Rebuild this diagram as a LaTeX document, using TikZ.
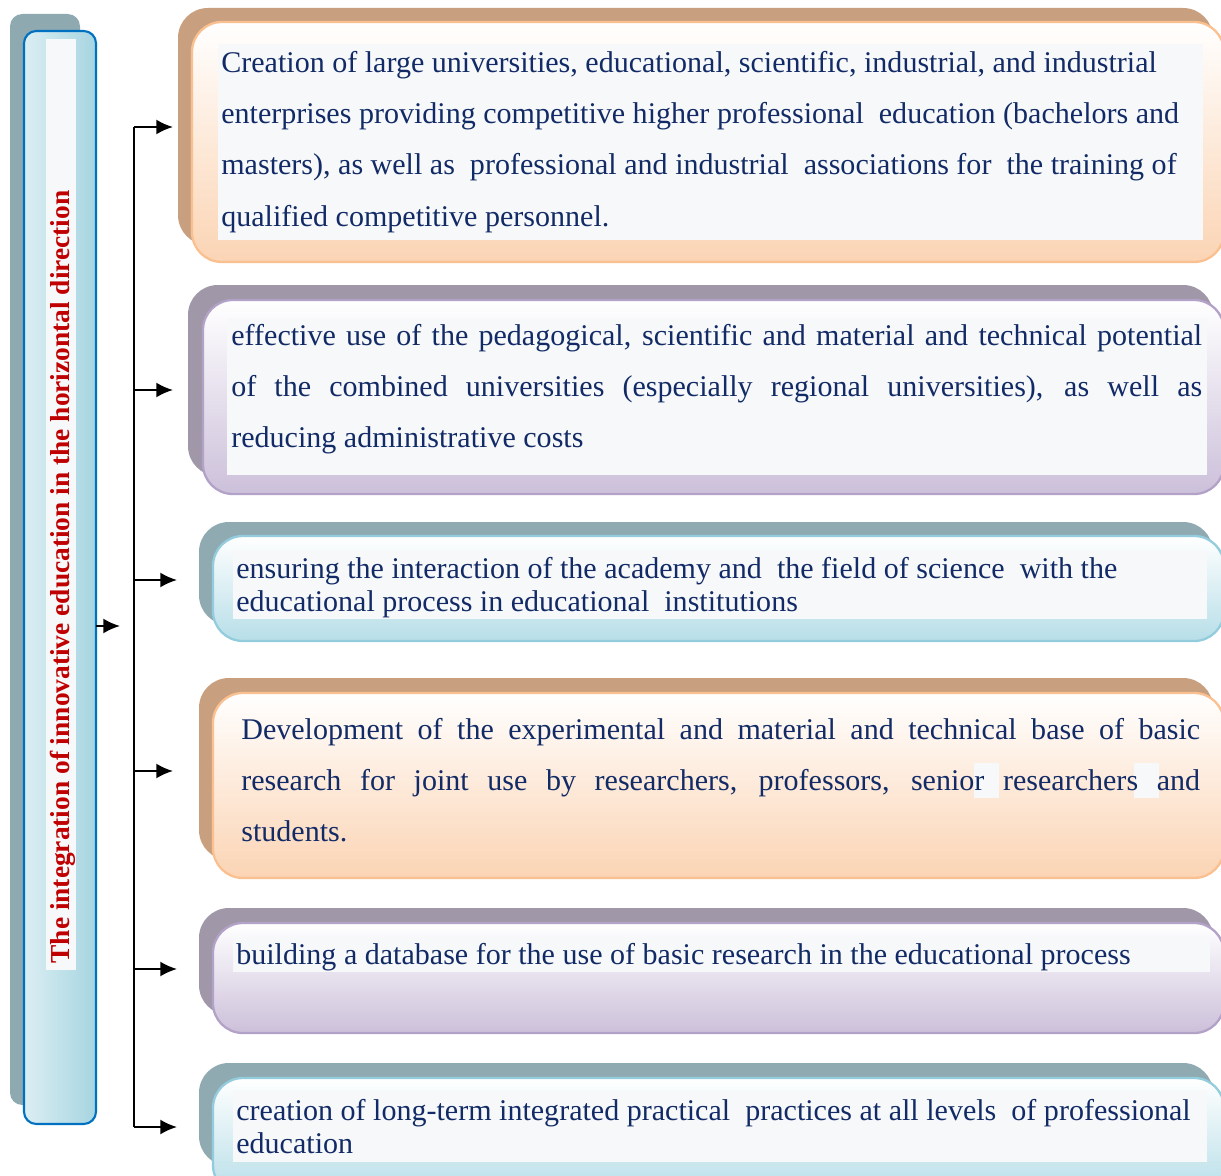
\documentclass[tikz,border=0pt]{standalone}
\usepackage{fontspec}
\setmainfont{Liberation Serif}
\usetikzlibrary{arrows.meta}

\definecolor{navy}{HTML}{122B66}
\definecolor{titlered}{HTML}{C00000}
\definecolor{paper}{HTML}{F7F8FA}
\definecolor{barline}{HTML}{0070C0}
\definecolor{barlight}{HTML}{DCEEF3}
\definecolor{bardark}{HTML}{A6D5E1}
\definecolor{barshade}{HTML}{8FA9B0}
\definecolor{brownshade}{HTML}{C9A07F}
\definecolor{peachline}{HTML}{FAC090}
\definecolor{peach}{HTML}{FBD4B4}
\definecolor{lilacshade}{HTML}{A097A8}
\definecolor{lilacline}{HTML}{B3A2C7}
\definecolor{lilac}{HTML}{CCC0DA}
\definecolor{tealshade}{HTML}{8FAAB1}
\definecolor{tealline}{HTML}{93CDDD}
\definecolor{aquafill}{HTML}{B7DEE8}

\tikzset{
  back/.style={fill=#1, rounded corners=17pt},
  front/.style 2 args={draw=#1, line width=1.3pt, top color=white, bottom color=#2, rounded corners=17pt},
  item/.style={text=navy, inner sep=0pt, anchor=north west, font=\fontsize{17.1}{29.3}\selectfont},
  tight/.style={font=\fontsize{17.1}{19}\selectfont},
  branch/.style={->, line width=1.1pt},
}

\begin{document}
\begin{tikzpicture}[x=0.02cm, y=-0.02cm, >={Latex[length=9.5pt,width=8.5pt]}]
\useasboundingbox (0,0) rectangle (1221,1176);
\clip (0,0) rectangle (1221,1176);

% left bar with the vertical title
\fill[barshade, rounded corners=7pt] (10,14) rectangle (80,1105);
\draw[barline, line width=1.2pt, left color=barlight, right color=bardark, rounded corners=7pt] (24,31) rectangle (96,1124);
\fill[paper] (46,39) rectangle (76,970);
\node[rotate=90, text=titlered, font=\bfseries\fontsize{15.6}{18}\selectfont, inner sep=0pt] (title) at (63,577) {The integration of innovative education in the horizontal direction};

% arrows
\coordinate (out) at (96,626);
\coordinate (in) at (120,626);
\draw[branch] (out) -- (in);
\foreach \y/\e [count=\i] in {127/173,390/173,580/177,771/173,969/177,1127/177} {
  \coordinate (t\i) at (134,\y);
  \coordinate (e\i) at (\e,\y);
}
\draw[line width=1.1pt] (t1) -- (t6);
\foreach \i in {1,...,6} \draw[branch] (t\i) -- (e\i);

% box 1
\fill[back=brownshade] (178,8) rectangle (1213,245);
\draw[front={peachline}{peach}] (192,22) rectangle (1224,262);
\fill[paper] (218,44) rectangle (1203,240);
\node[item, align=left] (b1) at (221,50.5) {Creation of large universities, educational, scientific, industrial, and industrial\\
enterprises providing competitive higher professional\ \ education (bachelors and\\
masters), as well as\ \ professional and industrial\ \ associations for\ \ the training of\\
qualified competitive personnel.};

% box 2
\fill[back=lilacshade] (188,285) rectangle (1213,476);
\draw[front={lilacline}{lilac}] (203,300) rectangle (1224,494);
\fill[paper] (227,318) rectangle (1207,475);
\node[item, text width=19.42cm, align=justify] (b2) at (231,323.5) {effective use of the pedagogical, scientific and material and technical potential\linebreak
of the combined universities (especially regional universities), as well as\linebreak
reducing administrative costs};

% box 3
\fill[back=tealshade] (199,522) rectangle (1213,625);
\draw[front={tealline}{aquafill}] (213,536) rectangle (1224,641);
\fill[paper] (233,550) rectangle (1207,619);
\node[item, tight, align=left] (b3) at (236,557) {ensuring the interaction of the academy and\ \ the field of science\ \ with the\\
educational process in educational\ \ institutions};

% box 4
\fill[back=brownshade] (199,678) rectangle (1213,860);
\draw[front={peachline}{peach}] (213,693) rectangle (1224,878);
\fill[paper] (974,763) rectangle (999,798);
\fill[paper] (1134,763) rectangle (1159,798);
\node[item, text width=19.18cm, align=justify] (b4) at (241,717.5) {Development of the experimental and material and technical base of basic\linebreak
research for joint use by researchers, professors, senior researchers and\linebreak
students.};

% box 5
\fill[back=lilacshade] (199,908) rectangle (1213,1015);
\draw[front={lilacline}{lilac}] (213,923) rectangle (1224,1033);
\fill[paper] (233,937) rectangle (1210,972);
\node[item] (b5) at (236,943) {building a database for the use of basic research in the educational process};

% box 6
\fill[back=tealshade] (199,1063) rectangle (1213,1166);
\draw[front={tealline}{aquafill}] (213,1078) rectangle (1224,1195);
\fill[paper] (233,1090) rectangle (1207,1162);
\node[item, tight, align=left] (b6) at (236,1099) {creation of long-term integrated practical\ \ practices at all levels\ \ of professional\\
education};
\end{tikzpicture}
\end{document}
